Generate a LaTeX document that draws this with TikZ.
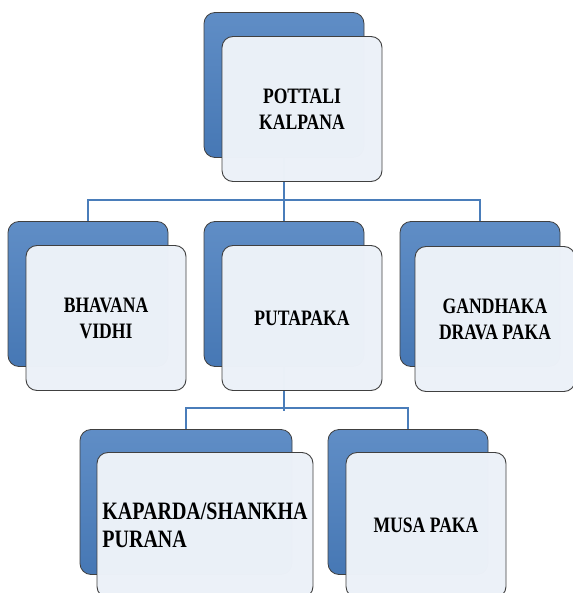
\documentclass[tikz,border=0pt]{standalone}
\usepackage{fontspec}
\usetikzlibrary{positioning}
\newfontfamily\boxfont[FakeStretch=0.8]{Liberation Serif}
\definecolor{smartblue}{HTML}{4A7EBE}
\definecolor{paleblue}{HTML}{ECF1F8}
\definecolor{edgegray}{HTML}{404040}
\definecolor{linkblue}{HTML}{4A7DBA}

\begin{document}
\begin{tikzpicture}[x=1pt, y=-1pt,
    backbox/.style={draw=edgegray, line width=0.8pt, rounded corners=11pt,
        top color=smartblue!88!white, bottom color=smartblue!95!black,
        minimum width=160pt, minimum height=145pt, inner sep=0pt},
    frontbox/.style={draw=edgegray, line width=0.9pt, rounded corners=11pt,
        fill=paleblue, fill opacity=0.993, text opacity=1,
        minimum width=160pt, minimum height=145pt, inner sep=2pt,
        align=center, font=\boxfont\bfseries\fontsize{22}{26}\selectfont},
    link/.style={draw=linkblue, line width=1.6pt}]

    \useasboundingbox (0,0) rectangle (572,593);

    % blue back boxes
    \node[backbox] (pottali)  at (284,85) {};
    \node[backbox] (bhavana)  at (88,294) {};
    \node[backbox] (putapaka) at (284,294) {};
    \node[backbox] (gandhaka) at (480,294) {};
    \node[backbox, minimum width=212pt] (kaparda) at (186,502) {};
    \node[backbox] (musa)     at (408,502) {};

    % connectors
    \draw[link] (pottali.south) -- (putapaka.north);
    \draw[link] (bhavana.north) -- ++(0,-21) -| (gandhaka.north);
    \draw[link] (putapaka.south) -- ++(0,44);
    \draw[link] (kaparda.north) -- ++(0,-21) -| (musa.north);

    % white front boxes with the texts
    \node[frontbox] (pottalitext)  at ([shift={(18,24)}]pottali.center)  {POTTALI\\KALPANA};
    \node[frontbox] (bhavanatext)  at ([shift={(18,24)}]bhavana.center)  {BHAVANA\\VIDHI};
    \node[frontbox] (putapakatext) at ([shift={(18,24)}]putapaka.center) {PUTAPAKA};
    \node[frontbox] (gandhakatext) at ([shift={(15,25)}]gandhaka.center) {GANDHAKA\\DRAVA PAKA};
    \node[frontbox, minimum width=216pt, align=left,
        font=\boxfont\bfseries\fontsize{25}{28}\selectfont]
        (kapardatext) at ([shift={(19,23)}]kaparda.center) {KAPARDA/SHANKHA\\PURANA};
    \node[frontbox] (musatext)     at ([shift={(18,23)}]musa.center)     {MUSA PAKA};

\end{tikzpicture}
\end{document}
